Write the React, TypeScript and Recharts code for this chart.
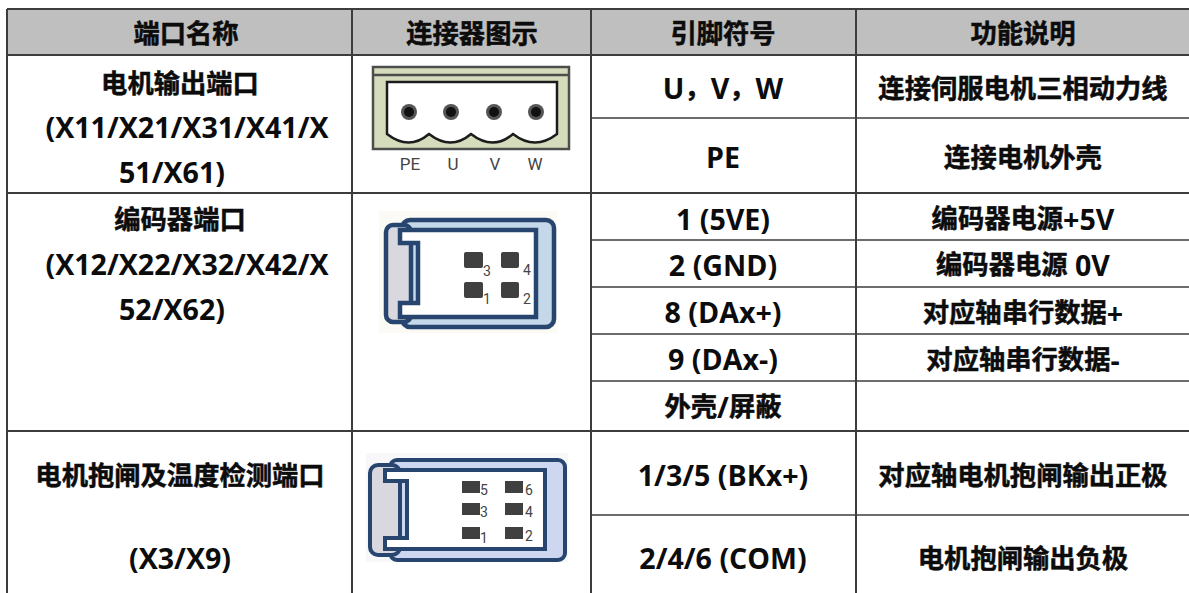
import React from "react";
import { ComposedChart, XAxis, YAxis, Scatter, ReferenceLine, ReferenceArea } from "recharts";

const W = 1189, H = 593;
const FONT = '"Open Sans","Noto Sans CJK SC",sans-serif';

const columnLines = [7, 352, 591, 856];
const fullRowLines = [9, 55, 193, 431];
const partialRowLines = [118, 240, 287, 334, 381, 515];

const headerLabels = [
  { x: 186, y: 33, label: "端口名称" },
  { x: 472, y: 33, label: "连接器图示" },
  { x: 723, y: 33, label: "引脚符号" },
  { x: 1023, y: 33, label: "功能说明" },
];
const portLabels = [
  { x: 180, y: 83, label: "电机输出端口" },
  { x: 187, y: 125.5, label: "(X11/X21/X31/X41/X" },
  { x: 172, y: 170.5, label: "51/X61)" },
  { x: 180, y: 219, label: "编码器端口" },
  { x: 187, y: 262.5, label: "(X12/X22/X32/X42/X" },
  { x: 172, y: 307.5, label: "52/X62)" },
  { x: 180, y: 475, label: "电机抱闸及温度检测端口" },
  { x: 180, y: 556.5, label: "(X3/X9)" },
];
const pinLabels = [
  { x: 723, y: 87, label: "U，V，W" },
  { x: 723, y: 155.5, label: "PE" },
  { x: 723, y: 217.5, label: "1 (5VE)" },
  { x: 723, y: 263.5, label: "2 (GND)" },
  { x: 723, y: 310.5, label: "8 (DAx+)" },
  { x: 723, y: 357.5, label: "9 (DAx-)" },
  { x: 723, y: 406, label: "外壳/屏蔽" },
  { x: 723, y: 473.5, label: "1/3/5 (BKx+)" },
  { x: 723, y: 556.5, label: "2/4/6 (COM)" },
];
const functionLabels = [
  { x: 1023, y: 88, label: "连接伺服电机三相动力线" },
  { x: 1023, y: 157, label: "连接电机外壳" },
  { x: 1023, y: 218, label: "编码器电源+5V" },
  { x: 1023, y: 264, label: "编码器电源 0V" },
  { x: 1023, y: 312, label: "对应轴串行数据+" },
  { x: 1023, y: 359, label: "对应轴串行数据-" },
  { x: 1023, y: 475, label: "对应轴电机抱闸输出正极" },
  { x: 1023, y: 558, label: "电机抱闸输出负极" },
];
const terminalAnchor = [{ x: 373, y: 67 }];
const encoderAnchor = [{ x: 379, y: 211 }];
const brakeAnchor = [{ x: 366, y: 453 }];

const terminalPins = [36, 78, 121, 163];
const terminalNames = [
  { dx: 37, t: "PE" },
  { dx: 80, t: "U" },
  { dx: 122, t: "V" },
  { dx: 162, t: "W" },
];

const BoldText = (p: any) => {
  const runs: string[] = String(p.payload.label).split(/([\x20-\x7e]+)/).filter(Boolean);
  return (
    <text
      x={p.cx}
      y={p.cy}
      textAnchor="middle"
      dominantBaseline="central"
      fontFamily={FONT}
      fontWeight={700}
      fontSize={26.3}
      fill="#0c0c0c"
      xmlSpace="preserve"
    >
      {runs.map((r, i) => {
        const latin = /^[\x20-\x7e]/.test(r);
        return (
          <tspan
            key={i}
            fontSize={latin ? 28.6 : 26.3}
            stroke="#0c0c0c"
            strokeWidth={latin ? 0 : 0.5}
          >
            {r}
          </tspan>
        );
      })}
    </text>
  );
};

const Terminal = (p: any) => {
  const { cx: x, cy: y } = p;
  const scallop = [
    `M${x + 14} ${y + 67}`,
    `Q${x + 36} ${y + 84} ${x + 56} ${y + 67}`,
    `Q${x + 78} ${y + 84} ${x + 98} ${y + 67}`,
    `Q${x + 120} ${y + 84} ${x + 140} ${y + 67}`,
    `Q${x + 162} ${y + 84} ${x + 184} ${y + 67}`,
    `L${x + 184} ${y + 15} L${x + 14} ${y + 15} Z`,
  ].join(" ");
  return (
    <g>
      <rect x={x} y={y} width={196} height={82} fill="#d5dcbc" stroke="#4d4d4d" strokeWidth={2.5} />
      <line x1={x} x2={x + 196} y1={y + 8} y2={y + 8} stroke="#4d4d4d" strokeWidth={2.5} />
      <path d={scallop} fill="#fff" stroke="#1c1c1c" strokeWidth={2.5} />
      {terminalPins.map((dx) => (
        <g key={dx}>
          <circle cx={x + dx} cy={y + 45} r={8} fill="#555" />
          <circle cx={x + dx} cy={y + 45} r={5} fill="#111" />
        </g>
      ))}
      {terminalNames.map((n) => (
        <text key={n.t} x={x + n.dx} y={y + 97} textAnchor="middle" dominantBaseline="central"
          fontFamily="Roboto, sans-serif" fontSize={17} fill="#444">
          {n.t}
        </text>
      ))}
    </g>
  );
};

const Encoder = (p: any) => {
  const { cx: x, cy: y } = p;
  const pins = [
    { dx: 85, dy: 41, w: 19, h: 16, t: "3", tx: 108, ty: 60 },
    { dx: 122, dy: 41, w: 18, h: 16, t: "4", tx: 148, ty: 59 },
    { dx: 85, dy: 71, w: 19, h: 16, t: "1", tx: 108, ty: 88 },
    { dx: 122, dy: 71, w: 18, h: 16, t: "2", tx: 148, ty: 88 },
  ];
  return (
    <g>
      <rect x={x} y={y} width={178} height={122} fill="#fbfaf4" />
      <rect x={x + 23} y={y + 9} width={152} height={107} rx={8} fill="#c5d8ea" stroke="#27456e" strokeWidth={4.5} />
      <rect x={x + 7} y={y + 14} width={25} height={97} rx={7} fill="#d8d8de" stroke="#27456e" strokeWidth={4.5} />
      <path
        d={`M${x + 21} ${y + 19} H${x + 157} V${y + 106} H${x + 21} V${y + 92} H${x + 39} V${y + 32} H${x + 21} Z`}
        fill="#fff"
        stroke="#27456e"
        strokeWidth={4.5}
      />
      {pins.map((q) => (
        <g key={q.t}>
          <rect x={x + q.dx} y={y + q.dy} width={q.w} height={q.h} rx={2} fill="#404040" />
          <text x={x + q.tx} y={y + q.ty} textAnchor="middle" dominantBaseline="central"
            fontFamily="Roboto, sans-serif" fontSize={14} fill="#444">
            {q.t}
          </text>
        </g>
      ))}
    </g>
  );
};

const Brake = (p: any) => {
  const { cx: x, cy: y } = p;
  const pins = [
    { dx: 96, dy: 28, t: "5", tx: 118, ty: 37 },
    { dx: 139, dy: 28, t: "6", tx: 163, ty: 37 },
    { dx: 96, dy: 50, t: "3", tx: 118, ty: 59 },
    { dx: 139, dy: 50, t: "4", tx: 163, ty: 59 },
    { dx: 96, dy: 74, t: "1", tx: 118, ty: 85 },
    { dx: 139, dy: 74, t: "2", tx: 163, ty: 83 },
  ];
  return (
    <g>
      <rect x={x} y={y} width={202} height={109} fill="#f8f8fb" />
      <rect x={x + 24} y={y + 7} width={175} height={100} rx={7} fill="#cdd7ef" stroke="#27456e" strokeWidth={4} />
      <rect x={x + 4} y={y + 12} width={30} height={90} rx={8} fill="#d8d8de" stroke="#27456e" strokeWidth={4} />
      <path
        d={`M${x + 19} ${y + 17} H${x + 179} V${y + 96} H${x + 19} V${y + 85} H${x + 41} V${y + 28} H${x + 19} Z`}
        fill="#fff"
        stroke="#27456e"
        strokeWidth={4}
      />
      {pins.map((q) => (
        <g key={q.t}>
          <rect x={x + q.dx} y={y + q.dy} width={18} height={12} fill="#404040" />
          <text x={x + q.tx} y={y + q.ty} textAnchor="middle" dominantBaseline="central"
            fontFamily="Roboto, sans-serif" fontSize={14} fill="#444">
            {q.t}
          </text>
        </g>
      ))}
    </g>
  );
};

const LINE = "#3c3c3c";

export default function App() {
  return (
    <div style={{ position: "absolute", left: 0, top: 0, width: W, height: H, background: "#fff" }}>
      <ComposedChart width={W} height={H} margin={{ top: 0, right: 0, bottom: 0, left: 0 }}>
        <XAxis type="number" dataKey="x" domain={[0, W]} hide />
        <YAxis type="number" dataKey="y" domain={[0, H]} reversed hide />
        <ReferenceArea x1={7} x2={W} y1={9} y2={55} fill="#bfbfbf" fillOpacity={1} stroke="none" />
        {columnLines.map((x) => (
          <ReferenceLine key={x} segment={[{ x, y: 9 }, { x, y: H }]} stroke={LINE} strokeWidth={2} />
        ))}
        {fullRowLines.map((y) => (
          <ReferenceLine key={y} segment={[{ x: 7, y }, { x: W, y }]} stroke={LINE} strokeWidth={2} />
        ))}
        {partialRowLines.map((y) => (
          <ReferenceLine key={y} segment={[{ x: 591, y }, { x: W, y }]} stroke={LINE} strokeWidth={1.5} />
        ))}
        <Scatter data={terminalAnchor} shape={Terminal} isAnimationActive={false} />
        <Scatter data={encoderAnchor} shape={Encoder} isAnimationActive={false} />
        <Scatter data={brakeAnchor} shape={Brake} isAnimationActive={false} />
        <Scatter data={headerLabels} shape={BoldText} isAnimationActive={false} />
        <Scatter data={portLabels} shape={BoldText} isAnimationActive={false} />
        <Scatter data={pinLabels} shape={BoldText} isAnimationActive={false} />
        <Scatter data={functionLabels} shape={BoldText} isAnimationActive={false} />
      </ComposedChart>
    </div>
  );
}
